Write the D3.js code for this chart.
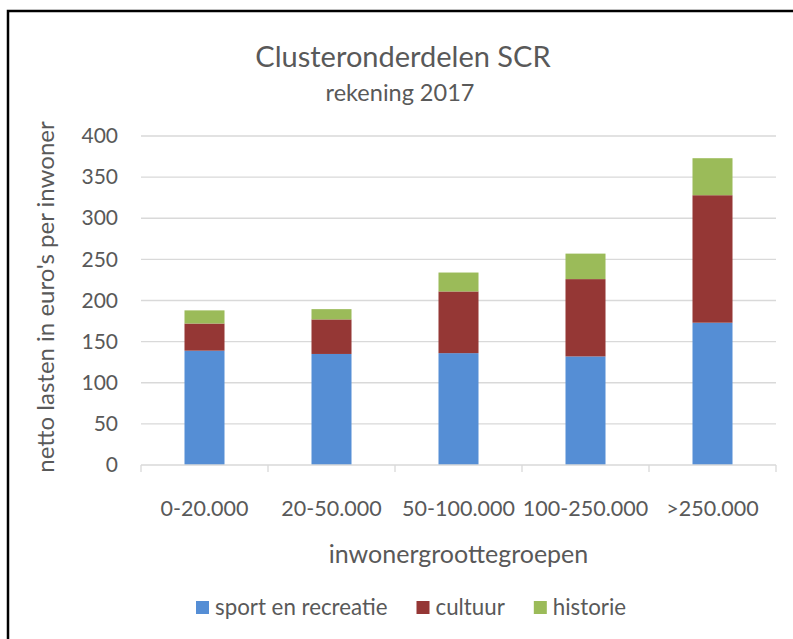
<!DOCTYPE html>
<html>
<head>
<meta charset="utf-8">
<script src="https://cdn.jsdelivr.net/npm/d3@7"></script>
<style>
  body { margin: 0; background: #fff; }
  svg { display: block; font-family: Lato, 'Open Sans', sans-serif; }
</style>
</head>
<body>
<div id="chart"></div>
<script>
// inwonergroottegroepen
const categories = ['0-20.000', '20-50.000', '50-100.000', '100-250.000', '>250.000'];
const seriesNames = ['sport en recreatie', 'cultuur', 'historie'];
const sport = [139, 135, 136, 132, 173];
const cultuur = [33, 42, 75, 94, 155];
const historie = [16, 12.5, 23, 31, 45];
const yTicks = [0, 50, 100, 150, 200, 250, 300, 350, 400];

const colors = ['#558ed5', '#953735', '#9bbb59'];
const textColor = '#595959';

const W = 793, H = 639;
const margin = { top: 136, right: 17, bottom: 174, left: 141 };
const width = W - margin.left - margin.right,
      height = H - margin.top - margin.bottom;

const rows = categories.map((c, i) => ({
  cat: c,
  'sport en recreatie': sport[i],
  'cultuur': cultuur[i],
  'historie': historie[i]
}));

const stacked = d3.stack().keys(seriesNames)(rows);

const svg = d3.select('#chart').append('svg')
  .attr('width', W)
  .attr('height', H);

// chart frame (cut off at the right and bottom like the screenshot)
svg.append('path')
  .attr('d', `M8,${H + 5} L8,11 L${W + 5},11`)
  .attr('fill', 'none')
  .attr('stroke', '#000')
  .attr('stroke-width', 2.5);

svg.append('text')
  .attr('x', 403).attr('y', 67)
  .attr('text-anchor', 'middle')
  .style('font-size', '29px')
  .style('fill', textColor)
  .text('Clusteronderdelen SCR');

svg.append('text')
  .attr('x', 400).attr('y', 101)
  .attr('text-anchor', 'middle')
  .style('font-size', '23.5px')
  .style('fill', textColor)
  .text('rekening 2017');

const g = svg.append('g')
  .attr('transform', `translate(${margin.left},${margin.top})`);

const x = d3.scaleBand()
  .domain(categories)
  .range([0, width])
  .paddingInner(0.685)
  .paddingOuter(0.3425);

const y = d3.scaleLinear()
  .domain([0, 400])
  .range([height, 0]);

// gridlines
g.append('g')
  .selectAll('line')
  .data(yTicks.filter(d => d > 0))
  .enter().append('line')
  .attr('x1', 0).attr('x2', width)
  .attr('y1', d => y(d)).attr('y2', d => y(d))
  .attr('stroke', '#d9d9d9')
  .attr('stroke-width', 1.3);

// y axis labels
const yAxis = g.append('g')
  .call(d3.axisLeft(y).tickValues(yTicks).tickSize(0).tickPadding(23));
yAxis.select('.domain').remove();
yAxis.selectAll('text')
  .style('font-size', '21px')
  .style('font-family', 'Lato, sans-serif')
  .style('fill', textColor);

// bars
g.selectAll('.series')
  .data(stacked)
  .enter().append('g')
  .attr('fill', (d, i) => colors[i])
  .selectAll('rect')
  .data(d => d)
  .enter().append('rect')
  .attr('x', d => x(d.data.cat))
  .attr('y', d => y(d[1]))
  .attr('height', d => y(d[0]) - y(d[1]))
  .attr('width', x.bandwidth());

// x axis with category separators
const step = x.step();
const xAxis = g.append('g')
  .attr('transform', `translate(0,${height})`);
xAxis.append('line')
  .attr('x1', 0).attr('x2', width)
  .attr('stroke', '#d9d9d9').attr('stroke-width', 1.3);
xAxis.selectAll('.sep')
  .data(d3.range(categories.length + 1))
  .enter().append('line')
  .attr('x1', i => i * step).attr('x2', i => i * step)
  .attr('y1', 0).attr('y2', 7)
  .attr('stroke', '#d9d9d9').attr('stroke-width', 1.3);
xAxis.selectAll('.lbl')
  .data(categories)
  .enter().append('text')
  .attr('x', d => x(d) + x.bandwidth() / 2)
  .attr('y', 51)
  .attr('text-anchor', 'middle')
  .style('font-size', '21.5px')
  .style('fill', textColor)
  .text(d => d);

// axis titles
g.append('text')
  .attr('x', width / 2)
  .attr('y', height + 98)
  .attr('text-anchor', 'middle')
  .style('font-size', '25px')
  .style('fill', textColor)
  .text('inwonergroottegroepen');

svg.append('text')
  .attr('transform', 'rotate(-90)')
  .attr('x', -297)
  .attr('y', 54)
  .attr('text-anchor', 'middle')
  .style('font-size', '24px')
  .style('fill', textColor)
  .text("netto lasten in euro's per inwoner");

// legend
const legend = svg.append('g').attr('transform', 'translate(0,614)');
let lx = 196;
seriesNames.forEach((name, i) => {
  legend.append('rect')
    .attr('x', lx).attr('y', -13)
    .attr('width', 13).attr('height', 13)
    .attr('fill', colors[i]);
  const t = legend.append('text')
    .attr('x', lx + 19).attr('y', 1)
    .style('font-size', '22.3px')
    .style('fill', textColor)
    .text(name);
  lx += 19 + t.node().getComputedTextLength() + 29;
});
</script>
</body>
</html>
